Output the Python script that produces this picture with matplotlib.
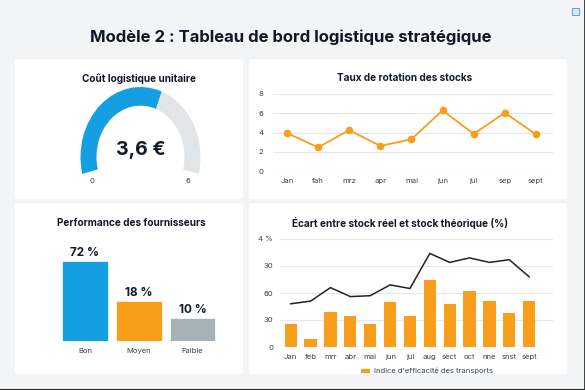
import matplotlib
matplotlib.use("Agg")
import matplotlib.pyplot as plt
from matplotlib.patches import FancyBboxPatch, Rectangle
from matplotlib.lines import Line2D

plt.rcParams['font.family'] = ['Inter', 'DejaVu Sans']

# ---- data ----
title = "Modèle 2 : Tableau de bord logistique stratégique"

gauge_value = 3.6
gauge_max = 6

rotation_months = ["Jan", "fah", "mrz", "apr", "mai", "jun", "jul", "sep", "sept"]
rotation_values = [3.95, 2.45, 4.25, 2.6, 3.3, 6.3, 3.85, 6.05, 3.8]

supplier_cats = ["Bon", "Moyen", "Faible"]
supplier_values = [72, 18, 10]

gap_months = ["Jan", "feb", "mrr", "abr", "mai", "jun", "jul", "aug",
              "sect", "oct", "nne", "snst", "sept"]
transport_index = [26, 9, 39, 34, 26, 50, 34, 75, 48, 62, 51, 38, 51]
stock_gap = [48, 51, 66, 56, 57, 69, 65, 104, 94, 99, 94, 97, 78]
gap_ticks = [0, 30, 60, 90, 120]
gap_ticklabels = ["0", "30", "60", "30", "4 %"]

# colours
BG = "#f3f4f6"
BLUE = "#159fe2"
ORANGE = "#f89e1b"
GREY_BAR = "#a7b1b8"
GREY_ARC = "#e2e5e8"
GRID = "#e5e7eb"
TXT = "#111827"
TICK = "#374151"

W, H = 585, 390
fig = plt.figure(figsize=(W / 100, H / 100), dpi=100, facecolor=BG)


def box(x0, y0, x1, y1):
    """pixel box (top-left origin) -> figure rect"""
    return [x0 / W, 1 - y1 / H, (x1 - x0) / W, (y1 - y0) / H]


def fx(x):
    return x / W


def fy(y):
    return 1 - y / H


# white panels (behind the axes)
for (x0, y0, x1, y1) in [(15, 59, 243, 199), (249, 59, 567, 199),
                         (15, 203, 243, 374), (249, 203, 567, 374)]:
    fig.patches.append(FancyBboxPatch((fx(x0), fy(y1)), fx(x1 - x0), (y1 - y0) / H,
                                      boxstyle="round,pad=0,rounding_size=0.006",
                                      transform=fig.transFigure, facecolor="white",
                                      edgecolor="none", zorder=-5))

# screenshot border + small icon
fig.add_artist(Line2D([fx(584.5), fx(584.5)], [0, 1], color="#222222", lw=1.2,
                      transform=fig.transFigure))
fig.add_artist(Line2D([0, 1], [fy(389.5), fy(389.5)], color="#222222", lw=1.5,
                      transform=fig.transFigure))
fig.patches.append(Rectangle((fx(572), fy(15)), fx(7), 7 / H, transform=fig.transFigure,
                             facecolor="#dbeafe", edgecolor="#60a5fa", lw=0.8))

fig.text(0.497, fy(37), title, ha="center", va="center", fontsize=12,
         fontweight="bold", color=TXT)

# ---- gauge (slightly tall ellipse, like the reference) ----
ax = fig.add_axes(box(80.5, 87, 200.5, 227))
span = 208
rest = gauge_max * (360 - span) / span
ax.pie([gauge_value, gauge_max - gauge_value, rest],
       colors=[BLUE, GREY_ARC, "none"], startangle=90 + span / 2,
       counterclock=False, wedgeprops=dict(width=16 / 60, edgecolor="none"))
ax.set_aspect("auto")
ax.set_xlim(-1, 1)
ax.set_ylim(-1, 1)
ax.text(0, 0.1, f"{gauge_value:.1f}".replace(".", ",") + " €", ha="center",
        va="center", fontsize=14, fontweight="bold", color=TXT)
ax.text(-0.81, -0.343, "0", ha="center", va="center", fontsize=5.5, color=TICK)
ax.text(0.79, -0.343, str(gauge_max), ha="center", va="center", fontsize=5.5, color=TICK)
fig.text(fx(139), fy(79), "Coût logistique unitaire", ha="center", va="center",
         fontsize=7.2, fontweight="bold", color=TXT)

# ---- rotation line chart ----
ax = fig.add_axes(box(273, 94, 553, 171))
xs = range(len(rotation_months))
ax.plot(xs, rotation_values, color=ORANGE, lw=1.3, marker="o", markersize=4.5, zorder=3)
ax.set_xlim(-0.45, 8.55)
ax.set_ylim(0, 8)
ax.set_yticks([0, 2, 4, 6, 8])
ax.set_xticks(list(xs))
ax.set_xticklabels(rotation_months)
ax.grid(axis="y", color=GRID, lw=0.8)
ax.set_axisbelow(True)
for s in ax.spines.values():
    s.set_visible(False)
ax.tick_params(length=0, labelsize=5.5, colors=TICK)
ax.tick_params(axis="x", pad=5)
ax.tick_params(axis="y", pad=7)
ax.set_facecolor("none")
fig.text(fx(405), fy(78), "Taux de rotation des stocks", ha="center", va="center",
         fontsize=7.2, fontweight="bold", color=TXT)

# ---- supplier bars (log scale, as the reference heights suggest) ----
ax = fig.add_axes(box(55, 241, 222, 341))
ax.set_yscale("log")
ax.bar(range(len(supplier_cats)), supplier_values, width=0.85,
       color=[BLUE, ORANGE, GREY_BAR], edgecolor="white", lw=0.5)
ax.set_ylim(4.5, 143)
ax.set_xlim(-0.558, 2.549)
for i, v in enumerate(supplier_values):
    ax.annotate(f"{v} %", (i, v), xytext=(0, 1.5), textcoords="offset points",
                ha="center", va="bottom", fontsize=8.5, fontweight="bold", color=TXT)
ax.set_xticks(range(len(supplier_cats)))
ax.set_xticklabels(supplier_cats)
ax.set_yticks([])
ax.set_yticks([], minor=True)
for s in ax.spines.values():
    s.set_visible(False)
ax.tick_params(length=0, labelsize=5.5, colors=TICK, pad=5)
ax.set_facecolor("none")
fig.text(fx(131), fy(223), "Performance des fournisseurs", ha="center", va="center",
         fontsize=7.2, fontweight="bold", color=TXT)

# ---- stock gap chart ----
ax = fig.add_axes(box(280, 239, 553, 347))
xs = range(len(gap_months))
ax.bar(xs, transport_index, width=0.62, color=ORANGE, zorder=2)
ax.plot(xs, stock_gap, color="#1f2329", lw=1.1, zorder=3)
ax.set_xlim(-0.54, 13.2)
ax.set_ylim(0, 120)
ax.set_yticks(gap_ticks)
ax.set_yticklabels(gap_ticklabels)
ax.set_xticks(list(xs))
ax.set_xticklabels(gap_months)
ax.grid(axis="y", color=GRID, lw=0.8)
ax.set_axisbelow(True)
for s in ax.spines.values():
    s.set_visible(False)
ax.tick_params(length=0, labelsize=5.5, colors=TICK)
ax.tick_params(axis="x", pad=5)
ax.tick_params(axis="y", pad=5)
ax.set_facecolor("none")
fig.text(fx(400), fy(223), "Écart entre stock réel et stock théorique (%)", ha="center",
         va="center", fontsize=7.2, fontweight="bold", color=TXT)
handle = Line2D([0], [0], color=ORANGE, lw=3, solid_capstyle="butt")
fig.legend([handle], ["Indice d'efficacité des transports"], loc="center",
           bbox_to_anchor=(fx(427), fy(371)), frameon=False, fontsize=5.5,
           handlelength=1.2, handletextpad=0.6, labelcolor=TICK)

fig.savefig("out.png", dpi=100, facecolor=BG)
